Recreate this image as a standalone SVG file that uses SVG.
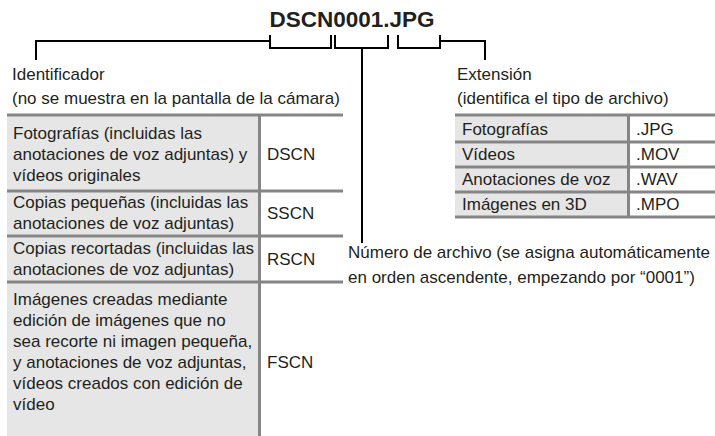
<svg xmlns="http://www.w3.org/2000/svg" width="715" height="436" viewBox="0 0 715 436">
<style>
text{font-family:"Liberation Sans",Arial,sans-serif;font-size:17px;fill:#231f20}
.title{font-weight:bold;font-size:22.5px}
.lab{fill:#e6e6e6}
.rule{stroke:#858585;stroke-width:3;fill:none}
.conn{stroke:#000;stroke-width:2;fill:none}
</style>
<rect width="715" height="436" fill="#fff"/>
<g id="title"><text class="title" x="352" y="27" text-anchor="middle">DSCN0001.JPG</text></g>
<g id="connectors">
<path class="conn" d="M270,35 V48 H331 V35"/>
<path class="conn" d="M335,35 V48 H388 V35"/>
<path class="conn" d="M398,35 V48 H440 V35"/>
<path class="conn" d="M36,60 V41 H270"/>
<path class="conn" d="M440,41 H485 V60"/>
<path class="conn" d="M362,48 V243"/>
</g>
<g id="identificador">
<text x="12" y="80">Identificador</text>
<text x="12" y="104">(no se muestra en la pantalla de la cámara)</text>
</g>
<g id="extension">
<text x="457" y="80">Extensión</text>
<text x="457" y="104">(identifica el tipo de archivo)</text>
</g>
<g id="numero">
<text x="348" y="258">Número de archivo (se asigna automáticamente</text>
<text x="348" y="283">en orden ascendente, empezando por “0001”)</text>
</g>
<g id="tabla-identificador">
<rect class="lab" x="7" y="115" width="252" height="321"/>
<line class="rule" x1="7" y1="115" x2="343" y2="115"/>
<line class="rule" x1="7" y1="191" x2="343" y2="191"/>
<line class="rule" x1="7" y1="236" x2="343" y2="236"/>
<line class="rule" x1="7" y1="282" x2="343" y2="282"/>
<line class="rule" x1="259.5" y1="115" x2="259.5" y2="436"/>
<text x="13" y="139">Fotografías (incluidas las</text>
<text x="13" y="160">anotaciones de voz adjuntas) y</text>
<text x="13" y="181">vídeos originales</text>
<text x="267" y="160">DSCN</text>
<text x="13" y="208">Copias pequeñas (incluidas las</text>
<text x="13" y="229">anotaciones de voz adjuntas)</text>
<text x="267" y="219">SSCN</text>
<text x="13" y="254">Copias recortadas (incluidas las</text>
<text x="13" y="275">anotaciones de voz adjuntas)</text>
<text x="267" y="265">RSCN</text>
<text x="13" y="305">Imágenes creadas mediante</text>
<text x="13" y="326">edición de imágenes que no</text>
<text x="13" y="347">sea recorte ni imagen pequeña,</text>
<text x="13" y="368">y anotaciones de voz adjuntas,</text>
<text x="13" y="389">vídeos creados con edición de</text>
<text x="13" y="410">vídeo</text>
<text x="267" y="368">FSCN</text>
</g>
<g id="tabla-extension">
<rect class="lab" x="455" y="115" width="173" height="102"/>
<line class="rule" x1="455" y1="115" x2="715" y2="115"/>
<line class="rule" x1="455" y1="142" x2="715" y2="142"/>
<line class="rule" x1="455" y1="167" x2="715" y2="167"/>
<line class="rule" x1="455" y1="192" x2="715" y2="192"/>
<line class="rule" x1="455" y1="217" x2="715" y2="217"/>
<line class="rule" x1="628.5" y1="115" x2="628.5" y2="217"/>
<text x="462" y="135">Fotografías</text>
<text x="636" y="135">.JPG</text>
<text x="462" y="160">Vídeos</text>
<text x="636" y="160">.MOV</text>
<text x="462" y="185">Anotaciones de voz</text>
<text x="636" y="185">.WAV</text>
<text x="462" y="210">Imágenes en 3D</text>
<text x="636" y="210">.MPO</text>
</g>
</svg>
